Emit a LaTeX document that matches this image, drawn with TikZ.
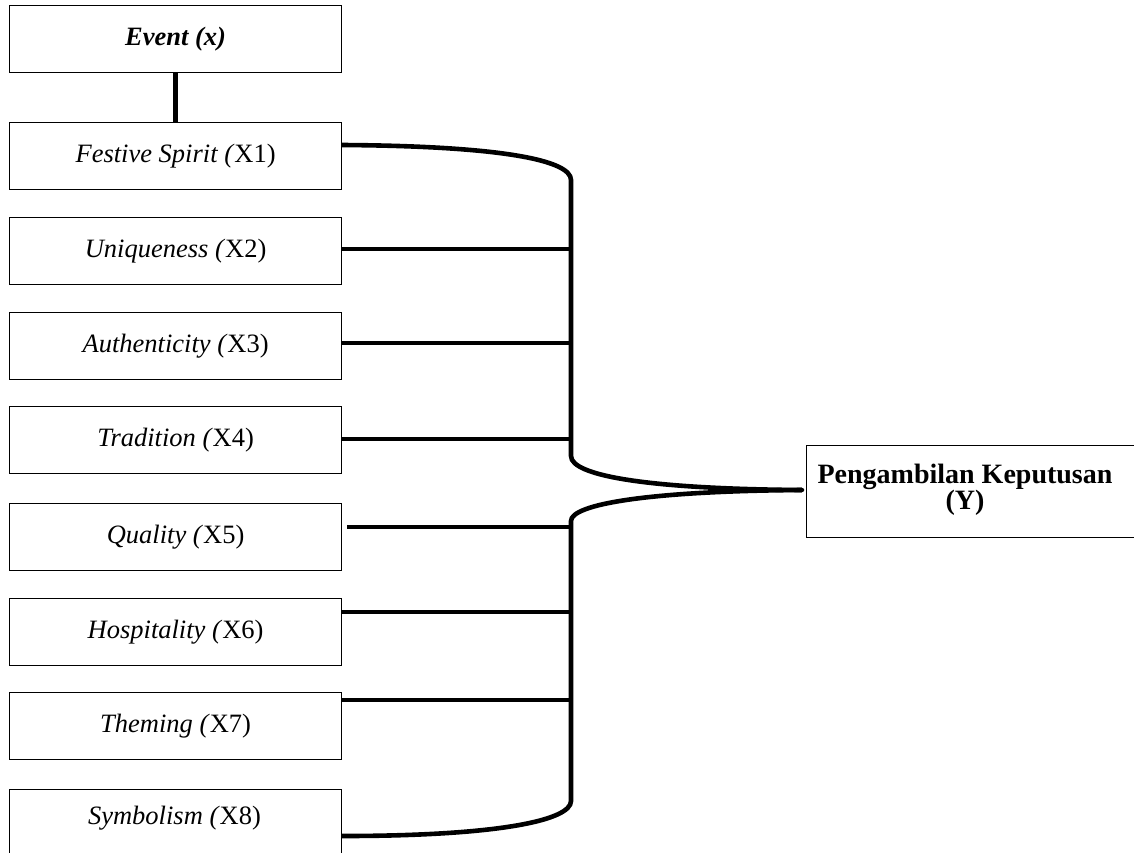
\documentclass[tikz,border=0pt]{standalone}
\usepackage{fontspec}
\setmainfont{Liberation Serif}
\begin{document}
\begin{tikzpicture}[x=1pt,y=-1pt,
  box/.style={draw, line width=1.2pt, minimum width=332pt, minimum height=67pt, anchor=north west, inner sep=0pt, font=\fontsize{26.5}{29}\selectfont},
  conn/.style={line width=4.6pt},
  trunk/.style={line width=4.6pt, line cap=round}]
\useasboundingbox (0,0) rectangle (1134,852);
\clip (0,0) rectangle (1134,852);
\node[box] (ev) at (9,5) {\textbf{\textit{Event (x)}}};
\node[box] (x1) at (9,122) {\textit{Festive Spirit (}X1)};
\node[box] (x2) at (9,217) {\textit{Uniqueness (}X2)};
\node[box] (x3) at (9,312) {\textit{Authenticity (}X3)};
\node[box] (x4) at (9,406) {\textit{Tradition (}X4)};
\node[box] (x5) at (9,503) {\textit{Quality (}X5)};
\node[box] (x6) at (9,598) {\textit{Hospitality (}X6)};
\node[box] (x7) at (9,692) {\textit{Theming (}X7)};
\node[box, minimum height=80pt] (x8) at (9,789) {};
\node[font=\fontsize{26.5}{29}\selectfont] (x8t) at (174.5,818) {\textit{Symbolism (}X8)};
\node[draw, line width=1.2pt, anchor=north west, minimum width=345pt, minimum height=92pt, inner sep=0pt] (y) at (806,445) {};
\node[align=center, inner sep=0pt, font=\bfseries\fontsize{28}{26}\selectfont] (yt) at (965,489.5) {Pengambilan Keputusan\\(Y)};
\draw[conn] (ev.south) -- (x1.north);
\coordinate (tip) at (802,490);
\coordinate (bt) at (571,180);
\coordinate (bm1) at (571,456);
\coordinate (bm2) at (571,521);
\coordinate (bb) at (571,801);
\draw[conn] ([yshift=-23pt]x1.north east) .. controls (500,146) and (571,160) .. (bt) -- (bm1)
  .. controls (571,476) and (650,489) .. (tip);
\draw[trunk] (tip) -- (740,490);
\draw[conn] (tip) .. controls (650,491) and (571,504) .. (bm2) -- (bb)
  .. controls (571,820) and (500,836) .. ([yshift=-47pt]x8.north east);
\draw[conn] ([yshift=-32pt]x2.north east) -- (571,249);
\draw[conn] ([yshift=-31pt]x3.north east) -- (571,343);
\draw[conn] ([yshift=-33pt]x4.north east) -- (571,439);
\draw[conn] ([xshift=5pt,yshift=-24pt]x5.north east) -- (571,527);
\draw[conn] ([yshift=-14pt]x6.north east) -- (571,612);
\draw[conn] ([yshift=-8pt]x7.north east) -- (571,700);
\end{tikzpicture}
\end{document}
